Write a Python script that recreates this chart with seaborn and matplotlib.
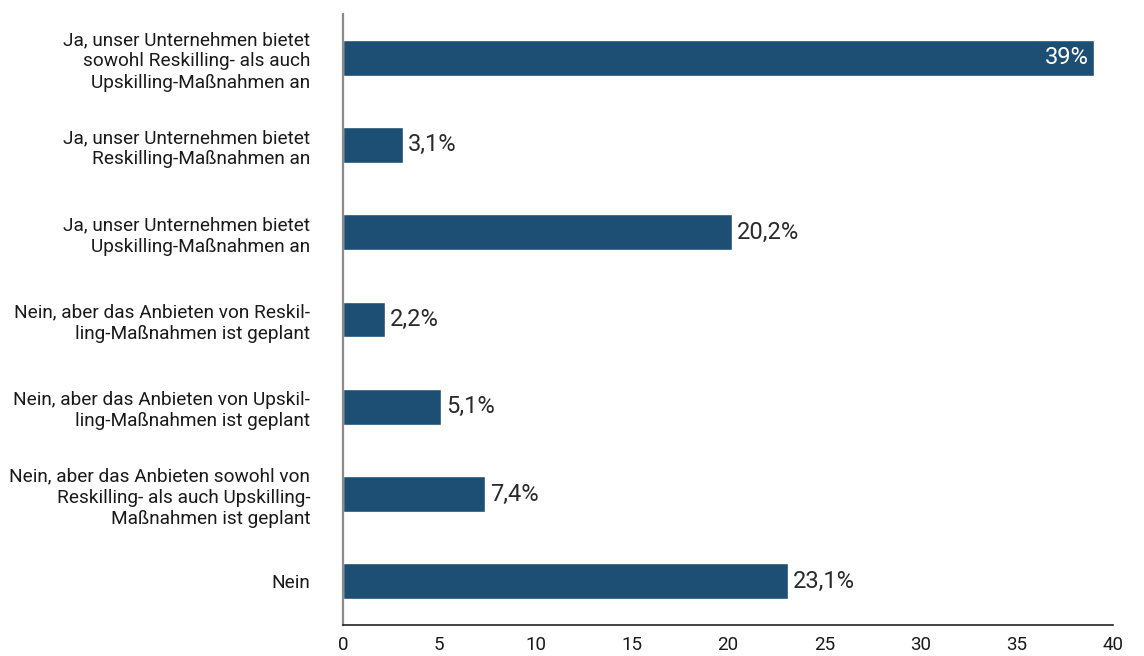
import matplotlib
matplotlib.use("Agg")
import matplotlib.pyplot as plt
import seaborn as sns
import pandas as pd

categories = [
    "Ja, unser Unternehmen bietet\nsowohl Reskilling- als auch\nUpskilling-Maßnahmen an",
    "Ja, unser Unternehmen bietet\nReskilling-Maßnahmen an",
    "Ja, unser Unternehmen bietet\nUpskilling-Maßnahmen an",
    "Nein, aber das Anbieten von Reskil-\nling-Maßnahmen ist geplant",
    "Nein, aber das Anbieten von Upskil-\nling-Maßnahmen ist geplant",
    "Nein, aber das Anbieten sowohl von\nReskilling- als auch Upskilling-\nMaßnahmen ist geplant",
    "Nein",
]
values = [39.0, 3.1, 20.2, 2.2, 5.1, 7.4, 23.1]
value_labels = ["39%", "3,1%", "20,2%", "2,2%", "5,1%", "7,4%", "23,1%"]
x_ticks = [0, 5, 10, 15, 20, 25, 30, 35, 40]

sns.set_theme(style="white")
plt.rcParams["font.family"] = ["Roboto", "DejaVu Sans"]

df = pd.DataFrame({"Kategorie": categories, "Wert": values})

fig = plt.figure(figsize=(11.44, 6.56), dpi=100)
ax = fig.add_axes([0.2998, 0.0473, 0.6731, 0.9314])

bar_color = "#1c4f73"
sns.barplot(data=df, x="Wert", y="Kategorie", orient="h", color=bar_color,
            width=0.41, saturation=1, ax=ax)

ax.set_xlim(0, 40)
ax.set_ylim(6.5, -0.5)
ax.set_xlabel("")
ax.set_ylabel("")
ax.set_xticks(x_ticks)
ax.set_xticklabels([str(t) for t in x_ticks], fontsize=13.5, color="#1a1a1a")
ax.tick_params(axis="x", direction="in", length=15, width=1, color="#222222", pad=8)
ax.tick_params(axis="y", length=0, pad=23.5, labelsize=13.7, labelcolor="#1a1a1a")
for lbl in ax.get_yticklabels():
    lbl.set_horizontalalignment("right")
    lbl.set_multialignment("right")
    lbl.set_linespacing(1.25)

for s in ["top", "right"]:
    ax.spines[s].set_visible(False)
ax.spines["left"].set_color("#8a8a8a")
ax.spines["left"].set_linewidth(1.6)
ax.spines["bottom"].set_color("#222222")
ax.spines["bottom"].set_linewidth(1.2)

for i, (v, txt) in enumerate(zip(values, value_labels)):
    if v > 35:
        ax.text(v - 0.25, i, txt, ha="right", va="center", color="white",
                fontsize=17, fontweight="normal")
    else:
        ax.text(v + 0.25, i, txt, ha="left", va="center", color="#2a2a2a",
                fontsize=17, fontweight="normal")

fig.savefig("out.png", dpi=100)
